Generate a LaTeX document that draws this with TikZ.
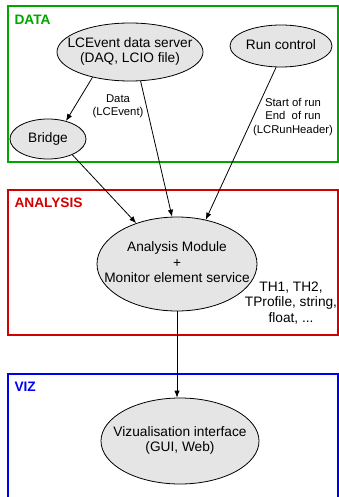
\documentclass[tikz,border=0pt]{standalone}
\usepackage{fontspec}
\setmainfont{Liberation Sans}
\usetikzlibrary{shapes.geometric,arrows.meta}
\definecolor{datagreen}{RGB}{0,165,0}
\definecolor{anared}{RGB}{210,0,0}
\definecolor{vizblue}{RGB}{0,0,240}
% text that does not widen its ellipse
\newcommand{\unittext}[1]{\makebox[0pt]{\begin{tabular}{@{}c@{}}#1\end{tabular}}}
\tikzset{
  unit/.style={ellipse,draw,line width=0.8pt,fill=gray!20,inner sep=0pt,
    font=\fontsize{13.7}{15.5}\selectfont},
  frame/.style={line width=2pt},
  tag/.style={anchor=west,font=\fontsize{13.7}{15.5}\selectfont\bfseries},
  note/.style={align=center,font=\fontsize{11.3}{13.3}\selectfont},
  flow/.style={->,line width=0.8pt},
}
\begin{document}
\begin{tikzpicture}[x=1pt,y=-1pt,>={Latex[length=7pt,width=5.5pt]}]
  \useasboundingbox (0,0) rectangle (338,497);
  % regions
  \draw[frame,datagreen] (8,6) rectangle (337.5,162);
  \draw[frame,anared] (8,190) rectangle (337.5,335);
  \draw[frame,vizblue] (8,510) -- (8,374) -- (337.5,374) -- (337.5,510);
  \node[tag,text=datagreen] (tdata) at (11,20) {DATA};
  \node[tag,text=anared] (tana) at (11,203) {ANALYSIS};
  \node[tag,text=vizblue] (tviz) at (11,387) {VIZ};
  % units
  \node[unit,minimum width=146pt,minimum height=58pt] (lce) at (130,52)
    {\unittext{LCEvent data server\\(DAQ, LCIO file)}};
  \node[unit,minimum width=102pt,minimum height=42pt] (run) at (281,46)
    {\unittext{Run control}};
  \node[unit,minimum width=76pt,minimum height=40pt] (bridge) at (48,139)
    {\unittext{Bridge}};
  \node[unit,minimum width=160pt,minimum height=94pt] (ana) at (177,264)
    {\unittext{Analysis Module\\+\\Monitor element service}};
  \node[unit,minimum width=158pt,minimum height=86pt] (viz) at (180,441)
    {\unittext{Vizualisation interface\\(GUI, Web)}};
  % labels
  \node[note] (ldata) at (118,106) {Data\\(LCEvent)};
  \node[note] (lrun) at (293,117) {Start of run\\End~ of run\\(LCRunHeader)};
  \node[align=center,font=\fontsize{13.7}{15.5}\selectfont] (lobj) at (291,303)
    {TH1, TH2,\\TProfile, string,\\float, ...};
  % flows
  \draw[flow] (lce.214) -- (bridge.45);
  \draw[flow] (bridge.-33) -- (ana.135);
  \draw[flow] (lce.290) -- (ana.96);
  \draw[flow] (run.257) -- (ana.57);
  \draw[flow] (ana.south) -- (ana.south |- viz.north);
\end{tikzpicture}
\end{document}
